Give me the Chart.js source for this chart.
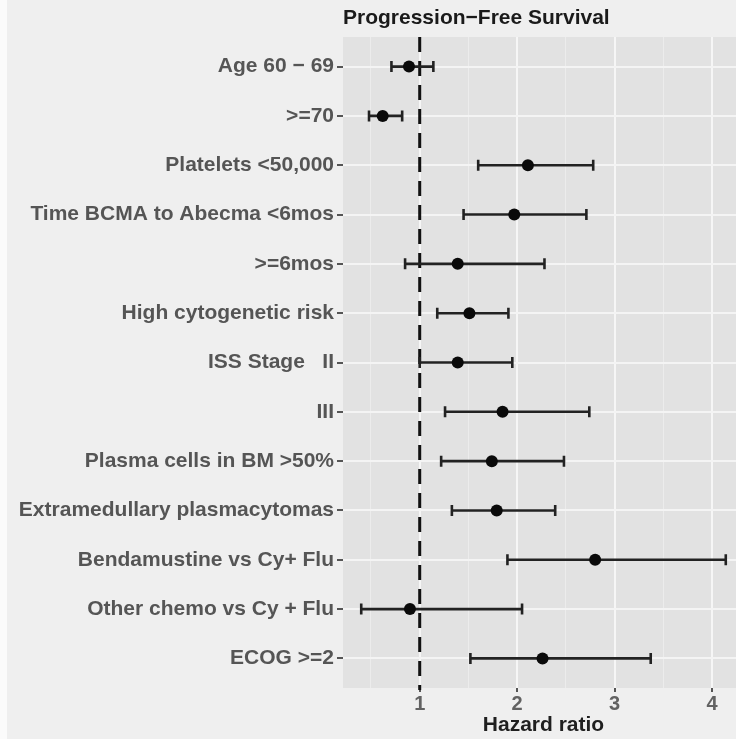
<!DOCTYPE html>
<html>
<head>
<meta charset="utf-8">
<script src="https://cdn.jsdelivr.net/npm/chart.js@4/dist/chart.umd.min.js"></script>
<style>
  html, body { margin: 0; padding: 0; background: #efefef; overflow: hidden; }
  #wrap { position: absolute; left: 0; top: 0; width: 760px; height: 739px; }
  #edge { position: absolute; left: 0; top: 0; width: 7px; height: 739px; background: #fbfbfb; }
</style>
</head>
<body>
<div id="wrap"><canvas id="forest" width="760" height="739"></canvas></div>
<div id="edge"></div>
<script>
// Cox model hazard ratios for progression-free survival, with 95% CI
const categories = [
  'Age 60 \u2212 69',
  '>=70',
  'Platelets <50,000',
  'Time BCMA to Abecma <6mos',
  '>=6mos',
  'High cytogenetic risk',
  'ISS Stage   II',
  'III',
  'Plasma cells in BM >50%',
  'Extramedullary plasmacytomas',
  'Bendamustine vs Cy+ Flu',
  'Other chemo vs Cy + Flu',
  'ECOG >=2'
];
const hazardRatio = [0.89, 0.62, 2.11, 1.97, 1.39, 1.51, 1.39, 1.85, 1.74, 1.79, 2.80, 0.90, 2.26];
const ciLower     = [0.71, 0.48, 1.60, 1.45, 0.85, 1.18, 1.00, 1.26, 1.22, 1.33, 1.90, 0.40, 1.52];
const ciUpper     = [1.14, 0.82, 2.78, 2.71, 2.28, 1.91, 1.95, 2.74, 2.48, 2.39, 4.14, 2.05, 3.37];
const xMajorTicks = [1, 2, 3, 4];
const xMinorTicks = [0.5, 1.5, 2.5, 3.5];
const referenceHR = 1;
const panelTitle = 'Progression\u2212Free Survival';
const xAxisTitle = 'Hazard ratio';

const PANEL_BG = '#e2e2e2';
const FONT = '"Liberation Sans", Arial, Helvetica, sans-serif';

const panelPlugin = {
  id: 'panel',
  beforeDraw(chart) {
    const { ctx, chartArea: a } = chart;
    ctx.save();
    ctx.fillStyle = '#efefef';
    ctx.fillRect(0, 0, chart.width, chart.height);
    ctx.fillStyle = PANEL_BG;
    ctx.fillRect(a.left, a.top, a.right - a.left, a.bottom - a.top);
    ctx.restore();
  }
};

// dashed reference line at HR = 1 plus horizontal CI whiskers with end caps
const intervalPlugin = {
  id: 'intervals',
  beforeDatasetsDraw(chart) {
    const { ctx, chartArea: a, scales: { x, y } } = chart;
    ctx.save();
    const xr = x.getPixelForValue(referenceHR);
    ctx.strokeStyle = '#111';
    ctx.lineWidth = 3;
    ctx.setLineDash([15, 9]);
    ctx.beginPath();
    ctx.moveTo(xr, a.top);
    ctx.lineTo(xr, a.bottom + 2);
    ctx.stroke();
    ctx.setLineDash([]);

    ctx.strokeStyle = '#222';
    ctx.lineWidth = 2.6;
    const cap = 5.5;
    for (let i = 0; i < categories.length; i++) {
      const py = y.getPixelForValue(i + 1);
      const x0 = x.getPixelForValue(ciLower[i]);
      const x1 = x.getPixelForValue(ciUpper[i]);
      ctx.beginPath();
      ctx.moveTo(x0, py); ctx.lineTo(x1, py);
      ctx.moveTo(x0, py - cap); ctx.lineTo(x0, py + cap);
      ctx.moveTo(x1, py - cap); ctx.lineTo(x1, py + cap);
      ctx.stroke();
    }
    ctx.restore();
  }
};

new Chart(document.getElementById('forest'), {
  type: 'scatter',
  data: {
    datasets: [{
      data: hazardRatio.map((v, i) => ({ x: v, y: i + 1 })),
      pointRadius: 6,
      pointHoverRadius: 6,
      pointBackgroundColor: '#0a0a0a',
      pointBorderWidth: 0
    }]
  },
  options: {
    responsive: false,
    animation: false,
    devicePixelRatio: 1,
    layout: { padding: { top: 0, right: 16, left: 0, bottom: 0 } },
    plugins: {
      legend: { display: false },
      tooltip: { enabled: false },
      title: {
        display: true,
        text: panelTitle,
        align: 'start',
        fullSize: false,
        color: '#1a1a1a',
        font: { family: FONT, size: 21, weight: 'bold', lineHeight: 1.2 },
        padding: { top: 6, bottom: 5.8 }
      }
    },
    scales: {
      x: {
        type: 'linear',
        min: 0.213,
        max: 4.327,
        afterBuildTicks(scale) {
          scale.ticks = xMinorTicks.concat(xMajorTicks).sort((a, b) => a - b).map(v => ({ value: v }));
        },
        afterFit(scale) { scale.height = 51; },
        border: { display: false },
        grid: {
          drawTicks: true,
          tickLength: 4,
          color: c => Number.isInteger(c.tick.value) ? '#f6f6f6' : '#ececec',
          lineWidth: c => Number.isInteger(c.tick.value) ? 2 : 1,
          tickColor: c => Number.isInteger(c.tick.value) ? '#555' : 'rgba(0,0,0,0)',
          tickWidth: 2
        },
        ticks: {
          autoSkip: false,
          maxRotation: 0,
          padding: 0,
          color: '#626262',
          font: { family: FONT, size: 20, weight: 'bold' },
          callback: v => Number.isInteger(v) ? String(v) : ''
        },
        title: {
          display: true,
          text: xAxisTitle,
          color: '#1f1f1f',
          font: { family: FONT, size: 21, weight: 'bold' },
          padding: { top: 0, bottom: 1 }
        }
      },
      y: {
        type: 'linear',
        reverse: true,
        min: 0.4,
        max: categories.length + 0.6,
        afterBuildTicks(scale) {
          scale.ticks = categories.map((_, i) => ({ value: i + 1 }));
        },
        afterFit(scale) { scale.width = 343; },
        border: { display: false },
        grid: {
          drawTicks: true,
          tickLength: 6,
          color: '#f4f4f4',
          lineWidth: 2,
          tickColor: '#555',
          tickWidth: 2
        },
        ticks: {
          autoSkip: false,
          padding: 3,
          color: '#555',
          font: { family: FONT, size: 21, weight: 'bold' },
          callback: v => categories[v - 1]
        }
      }
    }
  },
  plugins: [panelPlugin, intervalPlugin]
});
</script>
</body>
</html>
